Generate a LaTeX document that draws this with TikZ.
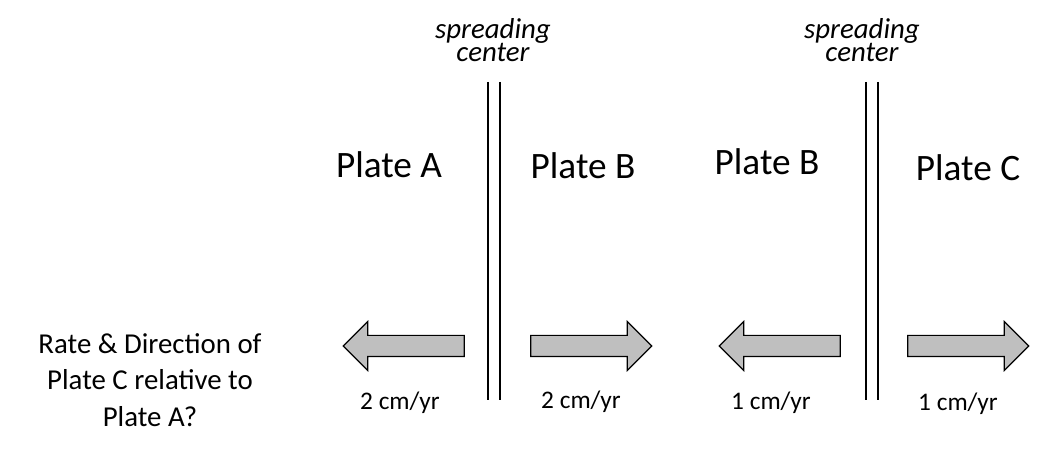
\documentclass[tikz,border=0pt]{standalone}
\usepackage{fontspec}
\setmainfont{Carlito}
\usetikzlibrary{shapes.arrows}
\begin{document}
\begin{tikzpicture}[x=0.025cm,y=-0.025cm,
  plate/.style={font=\fontsize{26.5}{30}\selectfont},
  rate/.style={font=\fontsize{18}{21}\selectfont},
  sc/.style={font=\fontsize{20.5}{22}\selectfont\itshape,align=center},
  bigarrow/.style={single arrow,draw,fill=black!25,line width=0.8pt,minimum height=121*0.025cm,single arrow head extend=14*0.025cm,single arrow head indent=0pt,inner xsep=0pt,inner ysep=10*0.025cm,text height=0pt,text depth=0pt}]
\useasboundingbox (0,0) rectangle (1053,451);
\node[sc] (s1) at (493,40) {spreading\\[-6pt]center};
\node[sc] (s2) at (862,40) {spreading\\[-6pt]center};
\coordinate (a1) at (488,82); \coordinate (a2) at (488,400);
\coordinate (b1) at (500,82); \coordinate (b2) at (500,400);
\coordinate (c1) at (866,82); \coordinate (c2) at (866,400);
\coordinate (d1) at (878,82); \coordinate (d2) at (878,400);
\draw[line width=1.3pt] (a1)--(a2) (b1)--(b2) (c1)--(c2) (d1)--(d2);
\node[plate] (pa) at (389,165) {Plate A};
\node[plate] (pb) at (583,166) {Plate B};
\node[plate] (pb2) at (767,162) {Plate B};
\node[plate] (pc) at (968,168) {Plate C};
\node[bigarrow,shape border rotate=180] (r1) at (409,346) {};
\node[bigarrow] (r2) at (586,346) {};
\node[bigarrow,shape border rotate=180] (r3) at (785,346) {};
\node[bigarrow] (r4) at (963,346) {};
\node[rate] (t1) at (400,403) {2 cm/yr};
\node[rate] (t2) at (581,402) {2 cm/yr};
\node[rate] (t3) at (771,403) {1 cm/yr};
\node[rate] (t4) at (958,404) {1 cm/yr};
\node[font=\fontsize{20.5}{24}\selectfont,align=center] (q) at (150,380) {Rate \& Direction of\\[2pt]Plate C relative to\\[2pt]Plate A?};
\end{tikzpicture}
\end{document}
